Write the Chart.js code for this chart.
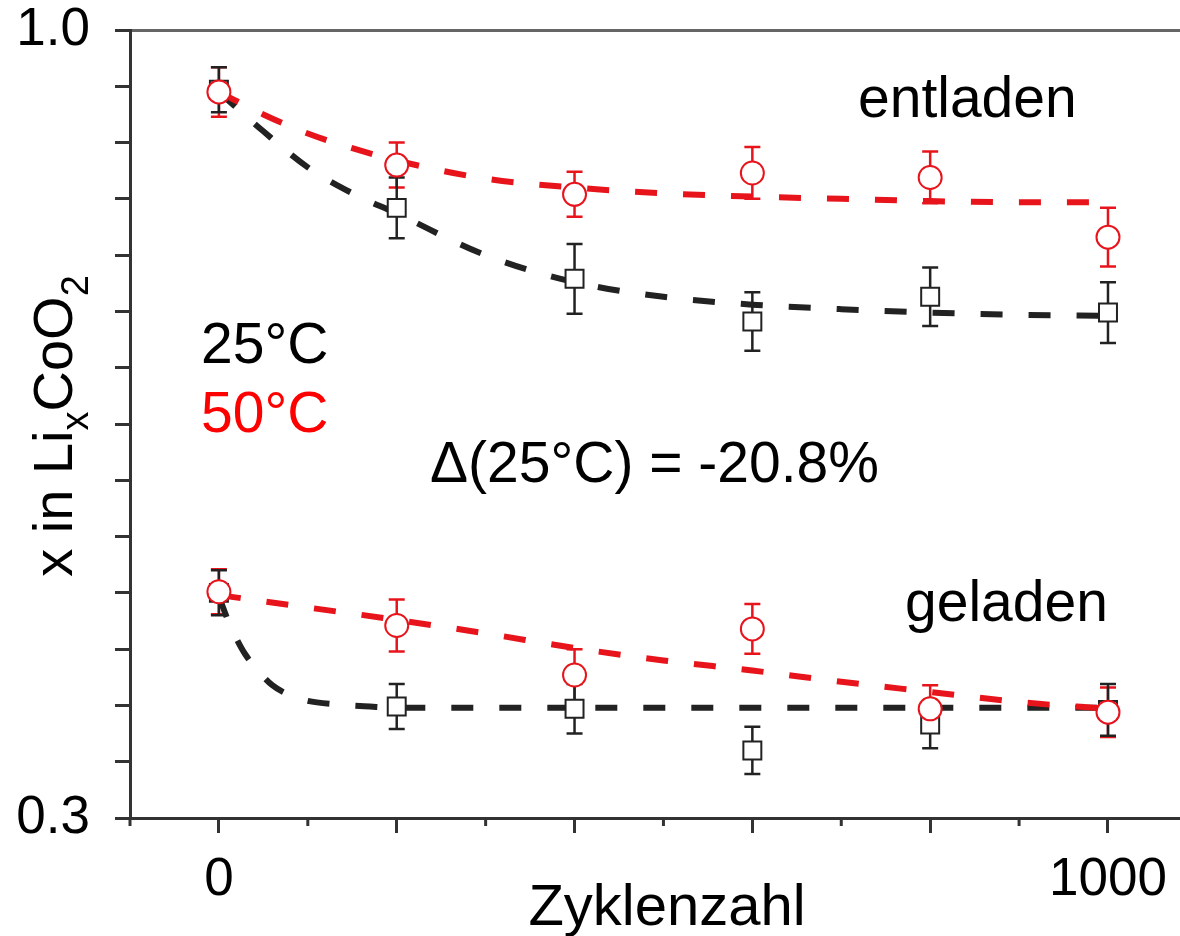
<!DOCTYPE html>
<html>
<head>
<meta charset="utf-8">
<script src="https://cdn.jsdelivr.net/npm/chart.js@4.4.1/dist/chart.umd.min.js"></script>
<style>
  html, body { margin: 0; padding: 0; background: #fff; }
  #wrap { width: 1180px; height: 936px; }
</style>
</head>
<body>
<div id="wrap"><canvas id="cycleChart" width="1180" height="936"></canvas></div>
<script>
// measured points (cycles vs. x in LixCoO2)
const cycles = [0, 200, 400, 600, 800, 1000];

const dis25 = [0.947, 0.842, 0.779, 0.741, 0.763, 0.749];
const dis25Err = [0.020, 0.027, 0.031, 0.026, 0.026, 0.027];
const dis50 = [0.945, 0.880, 0.854, 0.873, 0.869, 0.816];
const dis50Err = [0.022, 0.020, 0.020, 0.023, 0.023, 0.026];

const chg25 = [0.500, 0.399, 0.397, 0.360, 0.383, 0.396];
const chg25Err = [0.020, 0.020, 0.022, 0.021, 0.021, 0.023];
const chg50 = [0.501, 0.471, 0.427, 0.468, 0.397, 0.394];
const chg50Err = [0.020, 0.023, 0.023, 0.022, 0.021, 0.022];

// dashed trend lines
const fitDis25X = [0, 50, 100, 150, 200, 300, 400, 500, 600, 700, 800, 900, 1000];
const fitDis25Y = [0.945, 0.910, 0.878, 0.855, 0.837, 0.800, 0.776, 0.763, 0.756, 0.752, 0.749, 0.747, 0.746];
const fitDis50X = [0, 50, 100, 150, 200, 300, 400, 500, 600, 700, 800, 900, 1000];
const fitDis50Y = [0.945, 0.925, 0.908, 0.895, 0.884, 0.868, 0.860, 0.855, 0.852, 0.850, 0.848, 0.847, 0.847];
const fitChg25X = [0, 10, 20, 30, 45, 60, 80, 100, 130, 170, 200, 400, 600, 800, 1000];
const fitChg25Y = [0.497, 0.476, 0.459, 0.445, 0.430, 0.418, 0.409, 0.404, 0.401, 0.399, 0.398, 0.398, 0.398, 0.398, 0.398];
const fitChg50X = [0, 100, 200, 300, 400, 500, 600, 700, 800, 900, 1000];
const fitChg50Y = [0.498, 0.487, 0.476, 0.464, 0.451, 0.440, 0.431, 0.421, 0.412, 0.403, 0.397];

const xTickLabels = {0: '0', 1000: '1000'};
const yTickLabels = ['0.3', '1.0'];

const RED = 'rgb(232, 20, 28)';
const BLACK = '#222';
const FONT = '"Liberation Sans", Arial, sans-serif';

const pts = (xs, ys) => xs.map((v, i) => ({x: v, y: ys[i]}));

function markerSet(ys, errs, color, style, radius, order) {
  return {
    data: pts(cycles, ys),
    errors: errs,
    showLine: false,
    pointStyle: style,
    pointRadius: radius,
    pointBorderWidth: 2,
    borderColor: color,
    pointBorderColor: color,
    pointBackgroundColor: '#fff',
    order: order
  };
}

function fitSet(xs, ys, color) {
  return {
    data: pts(xs, ys),
    showLine: true,
    pointRadius: 0,
    borderColor: color,
    borderWidth: 6,
    borderDash: [22, 26],
    cubicInterpolationMode: 'monotone',
    fill: false,
    order: 5
  };
}

const noPad = s => { s.paddingTop = 0; s.paddingBottom = 0; s.paddingLeft = 0; s.paddingRight = 0; };

const errorBars = {
  id: 'errorBars',
  beforeDatasetsDraw(chart) {
    const {ctx, scales: {x, y}} = chart;
    chart.data.datasets.forEach(ds => {
      if (!ds.errors) return;
      ctx.save();
      ctx.strokeStyle = ds.borderColor;
      ctx.lineWidth = 2.5;
      ds.data.forEach((p, j) => {
        const px = x.getPixelForValue(p.x);
        const top = y.getPixelForValue(p.y + ds.errors[j]);
        const bot = y.getPixelForValue(p.y - ds.errors[j]);
        ctx.beginPath();
        ctx.moveTo(px, top); ctx.lineTo(px, bot);
        ctx.moveTo(px - 8, top); ctx.lineTo(px + 8, top);
        ctx.moveTo(px - 8, bot); ctx.lineTo(px + 8, bot);
        ctx.stroke();
      });
      ctx.restore();
    });
  }
};

const textBits = {
  id: 'textBits',
  afterDraw(chart) {
    const {ctx, scales: {x}} = chart;
    // short minor ticks on x axis
    ctx.save();
    ctx.strokeStyle = '#333';
    ctx.lineWidth = 3;
    x.ticks.forEach(t => {
      if (t.value % 200 === 0) return;
      const px = x.getPixelForValue(t.value);
      ctx.beginPath();
      ctx.moveTo(px, x.top);
      ctx.lineTo(px, x.top + 8);
      ctx.stroke();
    });
    ctx.restore();

    ctx.save();
    ctx.textAlign = 'left';
    ctx.textBaseline = 'alphabetic';
    ctx.font = '57px ' + FONT;
    ctx.fillStyle = '#000';
    ctx.fillText('entladen', 858, 117);
    ctx.fillText('geladen', 905, 621);
    ctx.fillText('25°C', 201, 363);
    ctx.fillText('Δ(25°C) = -20.8%', 430, 482);
    ctx.fillStyle = '#ff0000';
    ctx.fillText('50°C', 201, 432);

    ctx.fillStyle = '#000';
    ctx.textAlign = 'center';
    ctx.font = '58px ' + FONT;
    ctx.fillText('Zyklenzahl', 667, 925);

    // y title with subscripts
    const parts = [['x in Li', 56, 0], ['x', 38, 16], ['CoO', 56, 0], ['2', 38, 16]];
    ctx.translate(72, 426);
    ctx.rotate(-Math.PI / 2);
    ctx.textAlign = 'left';
    let total = 0;
    parts.forEach(p => { ctx.font = p[1] + 'px ' + FONT; total += ctx.measureText(p[0]).width; });
    let cx = -total / 2;
    parts.forEach(p => {
      ctx.font = p[1] + 'px ' + FONT;
      ctx.fillText(p[0], cx, p[2]);
      cx += ctx.measureText(p[0]).width;
    });
    ctx.restore();
  }
};

new Chart(document.getElementById('cycleChart').getContext('2d'), {
  type: 'scatter',
  data: {
    datasets: [
      markerSet(dis50, dis50Err, RED, 'circle', 11.5, 0),
      markerSet(chg50, chg50Err, RED, 'circle', 11.5, 1),
      markerSet(dis25, dis25Err, BLACK, 'rect', 12.7, 2),
      markerSet(chg25, chg25Err, BLACK, 'rect', 12.7, 3),
      fitSet(fitDis50X, fitDis50Y, RED),
      fitSet(fitChg50X, fitChg50Y, RED),
      fitSet(fitDis25X, fitDis25Y, BLACK),
      fitSet(fitChg25X, fitChg25Y, BLACK)
    ]
  },
  options: {
    responsive: false,
    animation: false,
    devicePixelRatio: 1,
    layout: { padding: 0, autoPadding: false },
    plugins: { legend: { display: false }, tooltip: { enabled: false } },
    scales: {
      x: {
        type: 'linear',
        position: 'bottom',
        min: -100,
        max: 1081,
        afterFit: s => { s.height = 118; noPad(s); },
        ticks: {
          stepSize: 100,
          includeBounds: false,
          autoSkip: false,
          maxRotation: 0,
          padding: 16,
          color: '#000',
          font: { size: 53, family: FONT },
          callback: v => xTickLabels[v] || ''
        },
        grid: {
          drawOnChartArea: false,
          tickLength: 15,
          tickWidth: 3,
          tickColor: c => (c.tick && c.tick.value % 200 === 0) ? '#333' : 'rgba(0,0,0,0)'
        },
        border: { color: '#333', width: 3 }
      },
      xTop: {
        type: 'linear',
        position: 'top',
        min: -100,
        max: 1081,
        afterFit: s => { s.height = 30; noPad(s); },
        ticks: { display: false },
        grid: { drawOnChartArea: false, drawTicks: false },
        border: { color: '#666', width: 3 }
      },
      y: {
        type: 'linear',
        position: 'left',
        min: 0.3,
        max: 1.0,
        afterFit: s => { s.width = 130; noPad(s); },
        ticks: {
          stepSize: 0.05,
          autoSkip: false,
          padding: 25,
          color: '#000',
          font: { size: 53, family: FONT },
          callback: v => {
            const lbl = v.toFixed(1);
            return (Math.abs(v - parseFloat(lbl)) < 1e-6 && yTickLabels.includes(lbl)) ? lbl : '';
          }
        },
        grid: { drawOnChartArea: false, tickLength: 15, tickWidth: 3, tickColor: '#333' },
        border: { color: '#333', width: 3 }
      }
    }
  },
  plugins: [errorBars, textBits]
});
</script>
</body>
</html>
